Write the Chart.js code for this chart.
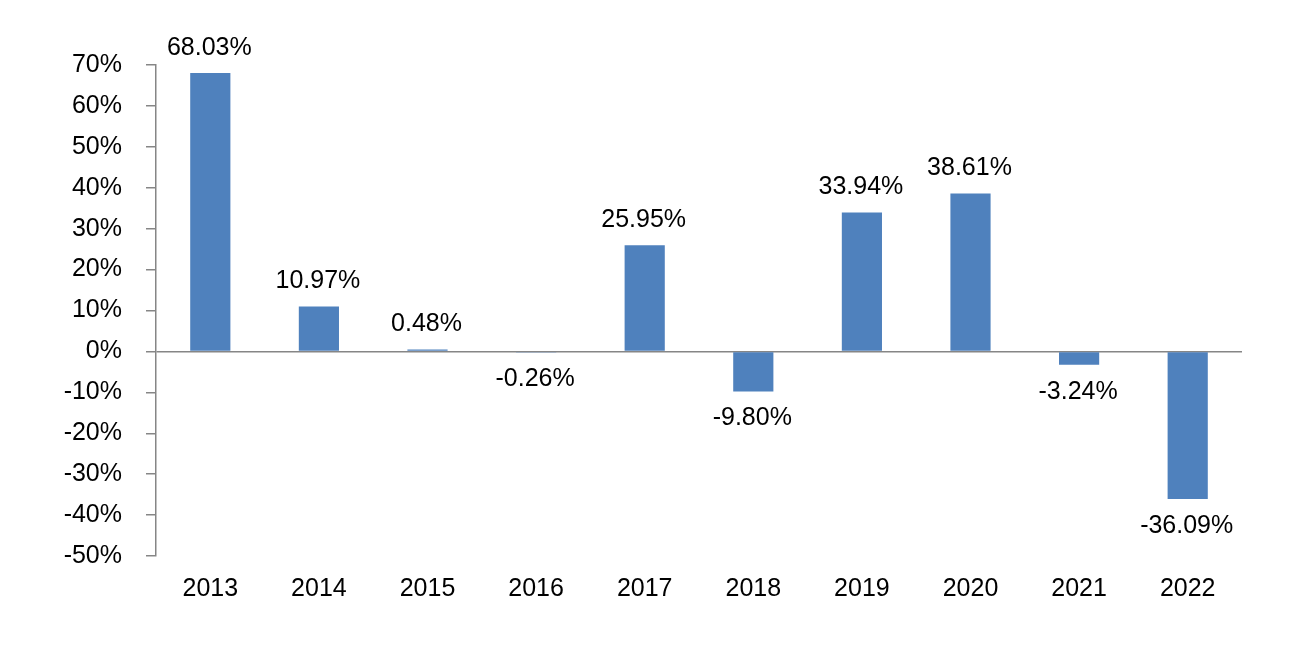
<!DOCTYPE html>
<html>
<head>
<meta charset="utf-8">
<script src="https://cdn.jsdelivr.net/npm/chart.js@4.4.0/dist/chart.umd.min.js"></script>
<style>
  html, body { margin: 0; padding: 0; background: #fff; }
  #wrap { width: 1306px; height: 666px; }
</style>
</head>
<body>
<div id="wrap"><canvas id="bar_chart"></canvas></div>
<script>
// values
var years = ['2013', '2014', '2015', '2016', '2017', '2018', '2019', '2020', '2021', '2022'];
var returns = [68.03, 10.97, 0.48, -0.26, 25.95, -9.80, 33.94, 38.61, -3.24, -36.09];
var yMin = -50, yMax = 70, yStep = 10;

var FONT = '"Liberation Sans", Arial, sans-serif';
var AXIS = '#868686';

// draws the value above (or below) each bar
var barLabels = {
    id: 'barLabels',
    afterDatasetsDraw: function (chart) {
        var ctx = chart.ctx;
        var meta = chart.getDatasetMeta(0);
        ctx.save();
        ctx.font = '25px ' + FONT;
        ctx.fillStyle = '#000';
        ctx.textAlign = 'center';
        ctx.textBaseline = 'middle';
        meta.data.forEach(function (bar, i) {
            var v = returns[i];
            var y = v >= 0 ? bar.y - 25 : bar.y + 27;
            ctx.fillText(v.toFixed(2) + '%', bar.x - 1, y);
        });
        ctx.restore();
    }
};

new Chart(document.getElementById('bar_chart').getContext('2d'), {
    type: 'bar',
    data: {
        labels: years,
        datasets: [{
            data: returns,
            backgroundColor: '#4F81BD',
            categoryPercentage: 1,
            barPercentage: 0.37
        }]
    },
    options: {
        responsive: true,
        maintainAspectRatio: false,
        animation: false,
        layout: { padding: { left: 0, right: 64, top: 65, bottom: 60 } },
        plugins: { legend: { display: false }, tooltip: { enabled: false } },
        scales: {
            x: {
                grid: { display: false },
                border: { display: false },
                ticks: { color: '#000', font: { family: FONT, size: 25 }, padding: 10 },
                afterFit: function (s) { s.height = 50; }
            },
            y: {
                min: yMin,
                max: yMax,
                border: { display: true, color: AXIS, width: 1.5 },
                grid: {
                    drawOnChartArea: true,
                    color: function (c) { return c.tick && c.tick.value === 0 ? AXIS : 'transparent'; },
                    lineWidth: 1.5,
                    tickColor: AXIS,
                    tickLength: 10
                },
                ticks: {
                    stepSize: yStep,
                    color: '#000',
                    font: { family: FONT, size: 25 },
                    padding: 24,
                    callback: function (v) { return v + '%'; }
                },
                afterFit: function (s) { s.width = 156; }
            }
        }
    },
    plugins: [barLabels]
});
</script>
</body>
</html>
